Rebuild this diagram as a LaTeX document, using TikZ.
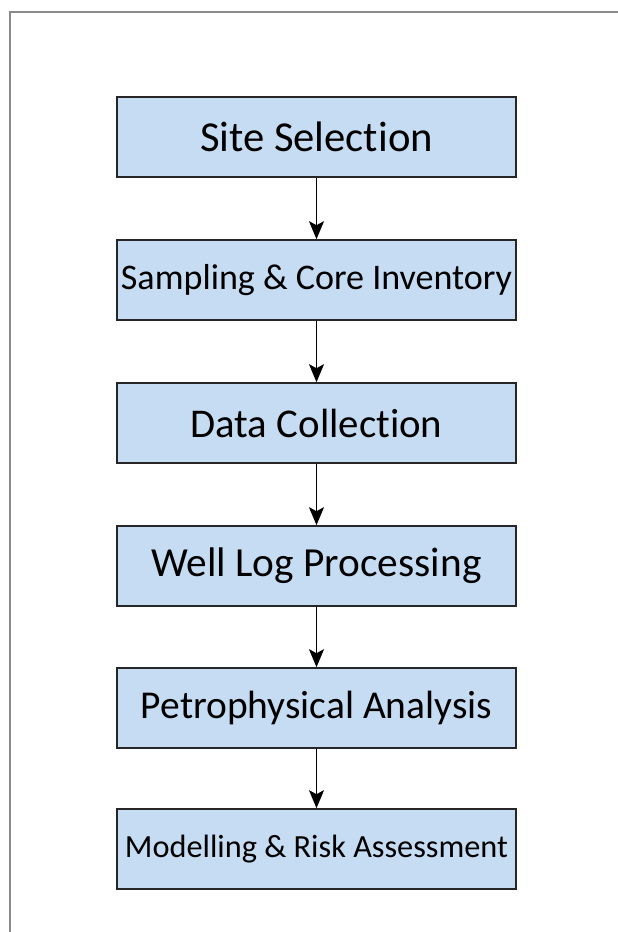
\documentclass[tikz,border=0pt]{standalone}
\usepackage{fontspec}
\setmainfont{Carlito}[Ligatures={NoCommon}]
\usetikzlibrary{arrows.meta}
\definecolor{boxfill}{HTML}{C6DCF3}
\definecolor{framegray}{HTML}{8A8A8A}
\tikzset{
  stepbox/.style={draw=black!85, line width=1.6pt, fill=boxfill, minimum width=399pt, minimum height=80pt, inner sep=0pt, anchor=center},
  flow/.style={draw=black, line width=1.6pt, -{Stealth[length=18pt,width=15pt,inset=4pt]}}
}
\newcommand{\fitto}[2]{\resizebox{#1}{!}{#2}}
\begin{document}
\begin{tikzpicture}[x=1pt,y=-1pt]
\useasboundingbox (0,0) rectangle (618,932);
\fill[white] (0,0) rectangle (618,932);
\draw[framegray, line width=2pt] (10,932) -- (10,12) -- (618,12);
\node[stepbox] (s1) at (316.5,137) {\fitto{233pt}{Site Selection}};
\node[stepbox] (s2) at (316.5,280) {\fitto{391pt}{Sampling \& Core Inventory}};
\node[stepbox] (s3) at (316.5,423) {\fitto{252pt}{Data Collection}};
\node[stepbox] (s4) at (316.5,566) {\fitto{330pt}{Well Log Processing}};
\node[stepbox] (s5) at (316.5,708) {\fitto{351pt}{Petrophysical Analysis}};
\node[stepbox] (s6) at (316.5,849) {\fitto{383pt}{Modelling \& Risk Assessment}};
\draw[flow] (s1) -- (s2);
\draw[flow] (s2) -- (s3);
\draw[flow] (s3) -- (s4);
\draw[flow] (s4) -- (s5);
\draw[flow] (s5) -- (s6);
\end{tikzpicture}
\end{document}
